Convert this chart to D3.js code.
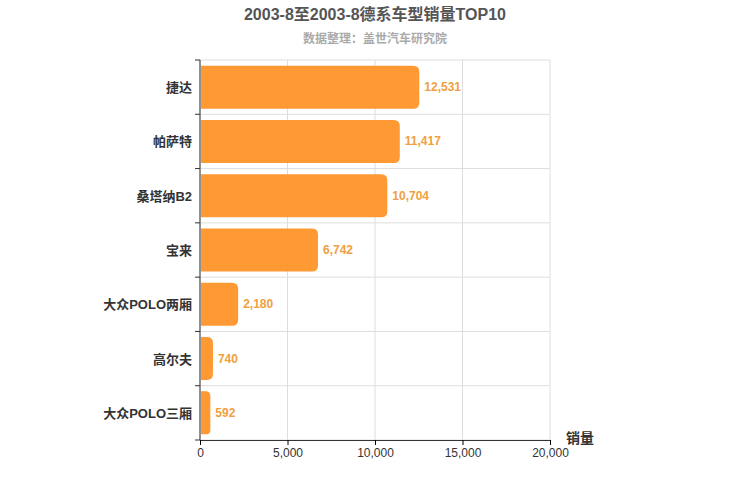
<!DOCTYPE html>
<html><head><meta charset="utf-8">
<script src="https://cdn.jsdelivr.net/npm/d3@7"></script>
<style>body{margin:0;background:#fff}text{font-family:"Liberation Sans","Noto Sans CJK SC",sans-serif}</style>
</head><body><svg id="c" width="750" height="500"></svg>
<script>
var categories = ['捷达','帕萨特','桑塔纳B2','宝来','大众POLO两厢','高尔夫','大众POLO三厢'];
var sales = [12531, 11417, 10704, 6742, 2180, 740, 592];
var ticks = [0, 5000, 10000, 15000, 20000];

var svg = d3.select('#c');
var pLeft = 200, pRight = 550, pTop = 60, pBottom = 440;
var x = d3.scaleLinear().domain([0, 20000]).range([pLeft, pRight]);

svg.append('text').attr('x', 375).attr('y', 20).attr('text-anchor', 'middle')
  .attr('font-size', 16).attr('font-weight', 'bold').attr('fill', '#555').text('2003-8至2003-8德系车型销量TOP10');
svg.append('text').attr('x', 375).attr('y', 43).attr('text-anchor', 'middle')
  .attr('font-size', 12).attr('font-weight', 'bold').attr('fill', '#aaa').text('数据整理：盖世汽车研究院');

// grid
svg.selectAll('.vg').data(ticks).enter().append('line')
  .attr('x1', d => x(d)).attr('x2', d => x(d)).attr('y1', pTop).attr('y2', pBottom)
  .attr('stroke', '#ddd');
var h = (pBottom - pTop) / categories.length;
var bands = d3.range(categories.length + 1).map(i => pTop + i * h);
svg.selectAll('.hg').data(bands).enter().append('line')
  .attr('x1', pLeft).attr('x2', pRight).attr('y1', d => d).attr('y2', d => d).attr('stroke', '#ddd');

// axis
var ax = svg.append('g').attr('transform', 'translate(0,' + pBottom + ')')
  .call(d3.axisBottom(x).tickValues(ticks).tickFormat(d3.format(',')).tickSize(5));
ax.select('.domain').attr('stroke', '#333');
ax.selectAll('text').attr('font-size', 12).attr('fill', '#333');
svg.append('line').attr('x1', pLeft).attr('x2', pLeft).attr('y1', pTop).attr('y2', pBottom).attr('stroke', '#333');
svg.selectAll('.yt').data(bands).enter().append('line')
  .attr('x1', pLeft - 5).attr('x2', pLeft).attr('y1', d => d).attr('y2', d => d).attr('stroke', '#333');
svg.append('text').attr('x', 566).attr('y', 443).attr('font-size', 14).attr('font-weight', 'bold')
  .attr('fill', '#333').text('销量');

var bh = 43;
var r = 6;
svg.selectAll('.bar').data(categories).enter().append('path')
  .attr('fill', '#ff9933')
  .attr('d', function(d, i) {
    var x0 = pLeft + 1, x1 = x(sales[i]), y0 = pTop + i * h + (h - bh) / 2, y1 = y0 + bh;
    var rr = Math.min(r, (x1 - x0) / 2);
    return 'M' + x0 + ',' + y0 + 'H' + (x1 - rr) + 'Q' + x1 + ',' + y0 + ' ' + x1 + ',' + (y0 + rr) +
      'V' + (y1 - rr) + 'Q' + x1 + ',' + y1 + ' ' + (x1 - rr) + ',' + y1 + 'H' + x0 + 'Z';
  });
svg.selectAll('.lbl').data(categories).enter().append('text')
  .attr('x', (d, i) => x(sales[i]) + 5).attr('y', (d, i) => pTop + i * h + h / 2 + 4)
  .attr('font-size', 12).attr('font-weight', 'bold').attr('fill', '#f0a040').text((d, i) => d3.format(',')(sales[i]));
svg.selectAll('.cat').data(categories).enter().append('text')
  .attr('x', pLeft - 8).attr('y', (d, i) => pTop + i * h + h / 2 + 5).attr('text-anchor', 'end')
  .attr('font-size', 13).attr('font-weight', 'bold').attr('fill', '#333').text(d => d);
</script></body></html>
